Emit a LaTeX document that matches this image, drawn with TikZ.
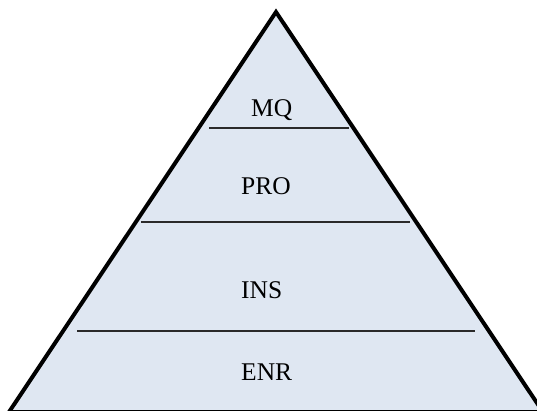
\documentclass[tikz,border=0pt]{standalone}
\usepackage{fontspec}
\setmainfont{Liberation Serif}
\usepackage{xcolor}
\definecolor{pyrfill}{HTML}{DFE7F2}
\definecolor{seprule}{HTML}{2A2A2A}

\begin{document}
\begin{tikzpicture}[x=1pt,y=-1pt,
    level/.style={font=\fontsize{25.5}{30}\selectfont, anchor=base west, inner sep=0pt},
    sep/.style={seprule,line width=1.4pt}]
        \useasboundingbox (0,0) rectangle (537,410);

        \coordinate (top)   at (276,12);
        \coordinate (left)  at (9,412);
        \coordinate (right) at (543,412);

        \begin{scope}
            \clip (0,0) rectangle (537,410);
            \filldraw[fill=pyrfill, draw=black, line width=4pt, line join=miter]
                (left) -- (top) -- (right) -- cycle;
        \end{scope}

        \coordinate (mqL)  at (209,128);
        \coordinate (mqR)  at (349,128);
        \coordinate (proL) at (141,222);
        \coordinate (proR) at (410,222);
        \coordinate (insL) at (77,331);
        \coordinate (insR) at (475,331);

        \draw[sep] (mqL) -- (mqR);
        \draw[sep] (proL) -- (proR);
        \draw[sep] (insL) -- (insR);

        \node[level] (mq)  at (251,116) {MQ};
        \node[level] (pro) at (241,194) {PRO};
        \node[level] (ins) at (241,298) {INS};
        \node[level] (enr) at (241,380) {ENR};
    \end{tikzpicture}
\end{document}
